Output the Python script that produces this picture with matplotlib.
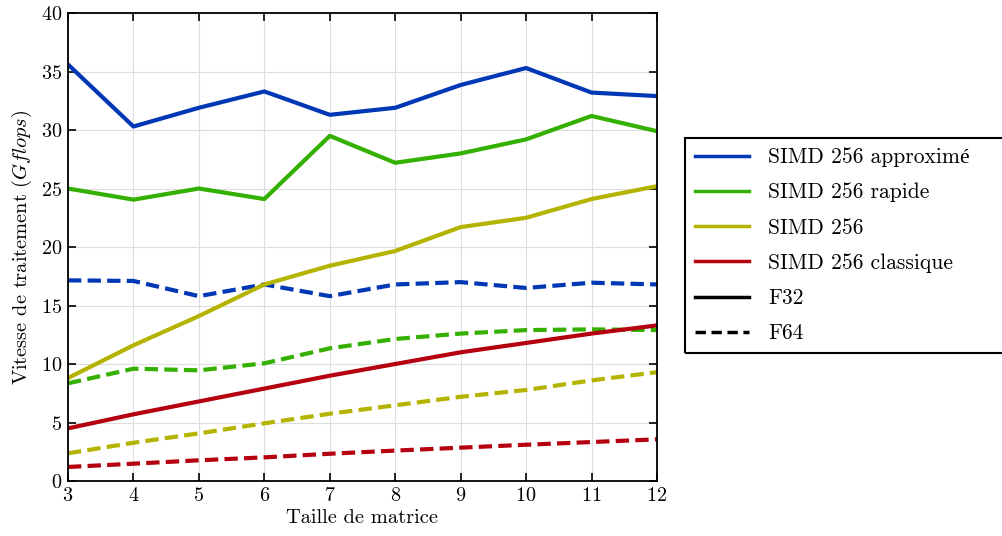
import matplotlib
matplotlib.use("Agg")
import matplotlib.pyplot as plt
from matplotlib.lines import Line2D
from matplotlib.patches import Rectangle

plt.rcParams['font.family'] = ['cmr10', 'Liberation Serif']
plt.rcParams['mathtext.fontset'] = 'cm'
plt.rcParams['axes.formatter.use_mathtext'] = True

sizes = [3, 4, 5, 6, 7, 8, 9, 10, 11, 12]

approx_f32 = [35.6, 30.3, 31.9, 33.3, 31.3, 31.9, 33.85, 35.3, 33.2, 32.9]
rapide_f32 = [25.0, 24.05, 25.0, 24.1, 29.5, 27.2, 28.0, 29.2, 31.2, 29.9]
simd_f32 = [8.8, 11.6, 14.1, 16.8, 18.4, 19.66, 21.7, 22.5, 24.1, 25.2]
classique_f32 = [4.5, 5.7, 6.8, 7.9, 9.0, 10.0, 11.0, 11.8, 12.6, 13.3]

approx_f64 = [17.15, 17.1, 15.8, 16.8, 15.8, 16.8, 17.0, 16.5, 16.95, 16.8]
rapide_f64 = [8.35, 9.6, 9.46, 10.06, 11.34, 12.14, 12.6, 12.9, 12.96, 12.9]
simd_f64 = [2.37, 3.27, 4.07, 4.93, 5.75, 6.47, 7.2, 7.78, 8.6, 9.3]
classique_f64 = [1.2, 1.48, 1.77, 2.02, 2.33, 2.6, 2.85, 3.1, 3.33, 3.56]

labels = ['SIMD 256 approxim\u00e9', 'SIMD 256 rapide', 'SIMD 256', 'SIMD 256 classique']
colors = ['#0037b5', '#33b000', '#b4b400', '#b4000f']

fig = plt.figure(figsize=(10.03, 5.36), dpi=100)
ax = fig.add_axes([0.0678, 0.1026, 0.5872, 0.8731])

f32_series = [approx_f32, rapide_f32, simd_f32, classique_f32]
f64_series = [approx_f64, rapide_f64, simd_f64, classique_f64]

for ys, c in zip(f64_series, colors):
    ax.plot(sizes, ys, color=c, lw=3, ls=(0, (3.2, 1.5)))
for ys, c in zip(f32_series, colors):
    ax.plot(sizes, ys, color=c, lw=3)

ax.set_xlim(3, 12)
ax.set_ylim(0, 40)
ax.set_xticks(range(3, 13))
ax.set_yticks(range(0, 41, 5))
ax.grid(True, color='#dddddd', lw=0.8)
ax.set_axisbelow(True)
ax.tick_params(direction='in', top=True, right=True, length=6, width=1.2, labelsize=14.5, pad=4)
for s in ax.spines.values():
    s.set_linewidth(1.3)
ax.set_xlabel('Taille de matrice', fontsize=14.7, labelpad=3)
ax.set_ylabel('Vitesse de traitement $(Gflops)$', fontsize=14.7, labelpad=5)

handles = [Line2D([], [], color=c, lw=2.5) for c in colors]
handles.append(Line2D([], [], color='black', lw=2.5))
handles.append(Line2D([], [], color='black', lw=2.5, ls=(0, (3, 1.6))))
leg = fig.legend(handles, labels + ['F32', 'F64'], loc='center left',
                 bbox_to_anchor=(0.683, 0.542), fontsize=15.5, frameon=False,
                 handlelength=2.5, handletextpad=0.9, labelspacing=0.73,
                 borderpad=0.45, borderaxespad=0)

# frame drawn separately so it can run to the right edge of the figure
fig.canvas.draw()
bb = leg.get_window_extent().transformed(fig.transFigure.inverted())
fig.patches.append(Rectangle((bb.x0, bb.y0), 1.0 - bb.x0 + 0.01, bb.height,
                             transform=fig.transFigure, fill=False,
                             edgecolor='black', lw=1.5, zorder=0))

fig.savefig('out.png', dpi=100)
